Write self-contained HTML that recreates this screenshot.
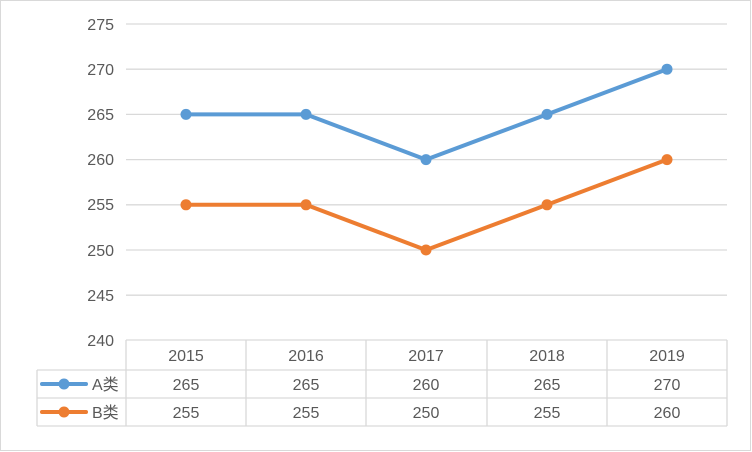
<!DOCTYPE html>
<html><head><style>body{margin:0;background:#fff}svg{display:block}</style></head><body>
<svg width="752" height="452" xmlns="http://www.w3.org/2000/svg" font-family="Liberation Sans, 'Noto Sans CJK SC', sans-serif" font-size="16" fill="#595959">
<rect x="0.5" y="0.5" width="750" height="450" fill="#fff" stroke="#d9d9d9"/>
<g stroke="#d9d9d9" stroke-width="1.3">
<line x1="126" y1="24" x2="727" y2="24"/>
<line x1="126" y1="69.2" x2="727" y2="69.2"/>
<line x1="126" y1="114.4" x2="727" y2="114.4"/>
<line x1="126" y1="159.6" x2="727" y2="159.6"/>
<line x1="126" y1="204.8" x2="727" y2="204.8"/>
<line x1="126" y1="250" x2="727" y2="250"/>
<line x1="126" y1="295.2" x2="727" y2="295.2"/>
<line x1="126" y1="340" x2="727" y2="340"/>
<line x1="37" y1="370" x2="727" y2="370"/>
<line x1="37" y1="398" x2="727" y2="398"/>
<line x1="37" y1="426" x2="727" y2="426"/>
<line x1="37" y1="370" x2="37" y2="426"/>
<line x1="126" y1="340" x2="126" y2="426"/>
<line x1="246" y1="340" x2="246" y2="426"/>
<line x1="366" y1="340" x2="366" y2="426"/>
<line x1="487" y1="340" x2="487" y2="426"/>
<line x1="607" y1="340" x2="607" y2="426"/>
<line x1="727" y1="340" x2="727" y2="426"/>
</g>
<g text-anchor="end">
<text x="114" y="30">275</text><text x="114" y="75">270</text><text x="114" y="120">265</text><text x="114" y="165">260</text><text x="114" y="210">255</text><text x="114" y="256">250</text><text x="114" y="301">245</text><text x="114" y="346">240</text>
</g>
<g text-anchor="middle">
<text x="186" y="361">2015</text><text x="306" y="361">2016</text><text x="426" y="361">2017</text><text x="547" y="361">2018</text><text x="667" y="361">2019</text>
<text x="186" y="390">265</text><text x="306" y="390">265</text><text x="426" y="390">260</text><text x="547" y="390">265</text><text x="667" y="390">270</text>
<text x="186" y="418">255</text><text x="306" y="418">255</text><text x="426" y="418">250</text><text x="547" y="418">255</text><text x="667" y="418">260</text>
</g>
<text x="92" y="390">A类</text><text x="92" y="418">B类</text>
<line x1="42" y1="384" x2="86" y2="384" stroke="#5b9bd5" stroke-width="4" stroke-linecap="round"/><circle cx="64" cy="384" r="5.5" fill="#5b9bd5"/>
<line x1="42" y1="412" x2="86" y2="412" stroke="#ed7d31" stroke-width="4" stroke-linecap="round"/><circle cx="64" cy="412" r="5.5" fill="#ed7d31"/>
<polyline points="186,114.4 306,114.4 426,159.6 547,114.4 667,69.2" fill="none" stroke="#5b9bd5" stroke-width="4" stroke-linejoin="round"/>
<polyline points="186,204.8 306,204.8 426,250 547,204.8 667,159.6" fill="none" stroke="#ed7d31" stroke-width="4" stroke-linejoin="round"/>
<g fill="#5b9bd5"><circle cx="186" cy="114.4" r="5.5"/><circle cx="306" cy="114.4" r="5.5"/><circle cx="426" cy="159.6" r="5.5"/><circle cx="547" cy="114.4" r="5.5"/><circle cx="667" cy="69.2" r="5.5"/></g>
<g fill="#ed7d31"><circle cx="186" cy="204.8" r="5.5"/><circle cx="306" cy="204.8" r="5.5"/><circle cx="426" cy="250" r="5.5"/><circle cx="547" cy="204.8" r="5.5"/><circle cx="667" cy="159.6" r="5.5"/></g>
</svg>
</body></html>
